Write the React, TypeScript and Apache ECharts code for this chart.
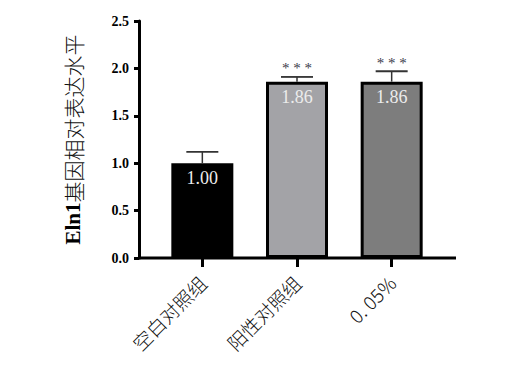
import React, { useEffect, useRef } from "react";
import * as echarts from "echarts";

const categories = ["空白对照组", "阳性对照组", "0. 05%"];
const means = [1.0, 1.86, 1.86];
const errors = [0.12, 0.05, 0.11];
const marks = ["", "***", "***"];
const fills = ["#000000", "#a3a3a7", "#7d7d7d"];

export default function App() {
  const ref = useRef<HTMLDivElement>(null);
  useEffect(() => {
    if (!ref.current) return;
    document.body.style.margin = "0";
    const chart = echarts.init(ref.current, null, { renderer: "svg" });
    const errData = means.map((m, i) => [i, m, errors[i], marks[i]]);
    chart.setOption({
      animation: false,
      backgroundColor: "#ffffff",
      grid: { left: 155, right: 72, top: 21, bottom: 131 },
      xAxis: {
        type: "category",
        data: categories,
        axisLine: { show: false },
        axisTick: { show: true, alignWithLabel: true, length: 9, lineStyle: { color: "#000", width: 3 } },
        axisLabel: {
          rotate: 45,
          margin: 21,
          fontSize: 19,
          color: "#111",
          fontFamily: "Noto Sans CJK SC",
          fontWeight: 300,
        },
      },
      yAxis: {
        type: "value",
        min: 0,
        max: 2.5,
        interval: 0.5,
        offset: 16,
        name: "{b|Eln1}{n|基因相对表达水平}",
        nameLocation: "middle",
        nameGap: 56,
        nameRotate: 90,
        nameTextStyle: {
          rich: {
            b: { fontFamily: "Liberation Serif", fontWeight: "bold", fontSize: 21, color: "#000" },
            n: { fontFamily: "Noto Sans CJK SC", fontWeight: 300, fontSize: 21, color: "#111" },
          },
        },
        splitLine: { show: false },
        axisLine: { show: true, lineStyle: { color: "#000", width: 3 } },
        axisTick: { show: true, length: 5, lineStyle: { color: "#000", width: 3 } },
        axisLabel: {
          margin: 10,
          fontFamily: "Liberation Serif",
          fontWeight: "bold",
          fontSize: 14,
          color: "#000",
          formatter: (v: number) => v.toFixed(1),
        },
      },
      graphic: [
        {
          type: "line",
          shape: { x1: 138, y1: 258, x2: 456, y2: 258 },
          style: { stroke: "#000", lineWidth: 3 },
          z: 100,
        },
      ],
      series: [
        {
          type: "bar",
          barWidth: 62,
          data: means.map((m, i) => ({
            value: m,
            itemStyle: { color: fills[i], borderColor: "#000", borderWidth: i === 0 ? 0 : 3 },
          })),
          label: {
            show: true,
            position: "insideTop",
            distance: 6,
            fontFamily: "Liberation Serif",
            fontSize: 18,
            color: "#ececec",
            formatter: (p: any) => Number(p.value).toFixed(2),
          },
          z: 2,
        },
        {
          type: "custom",
          data: errData,
          z: 3,
          renderItem: (params: any, api: any) => {
            const x = api.value(0);
            const m = api.value(1);
            const e = api.value(2);
            const mark = errData[params.dataIndex][3] as string;
            const base = api.coord([x, m]);
            const top = api.coord([x, m + e]);
            const half = 16;
            const children: any[] = [
              {
                type: "line",
                shape: { x1: base[0], y1: base[1], x2: top[0], y2: top[1] },
                style: { stroke: "#333", lineWidth: 1.5 },
              },
              {
                type: "line",
                shape: { x1: top[0] - half, y1: top[1], x2: top[0] + half, y2: top[1] },
                style: { stroke: "#333", lineWidth: 1.8 },
              },
            ];
            if (mark) {
              children.push({
                type: "text",
                style: {
                  text: "* * *",
                  x: top[0],
                  y: top[1] - 1,
                  align: "center",
                  verticalAlign: "bottom",
                  fontSize: 15,
                  fontFamily: "Liberation Serif",
                  fill: "#3a3a4a",
                },
              });
            }
            return { type: "group", children };
          },
        },
      ],
    });
    return () => chart.dispose();
  }, []);
  return <div ref={ref} style={{ width: 511, height: 389 }} />;
}
